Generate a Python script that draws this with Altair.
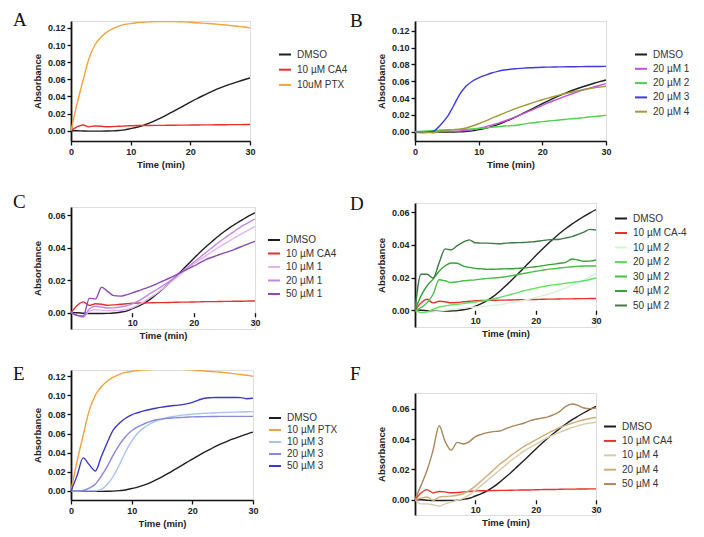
import altair as alt
import pandas as pd

TIME = list(range(31))

DMSO = [0, 0, -0.0003, -0.0005, -0.0005, -0.0005, -0.0004, -0.0002, 0.0003, 0.001,
        0.0025, 0.004, 0.006, 0.0085, 0.0115, 0.0148, 0.0183, 0.022, 0.0257, 0.0295,
        0.0333, 0.037, 0.0405, 0.0438, 0.047, 0.0499, 0.0526, 0.055, 0.0573, 0.0595, 0.0615]
CA4 = [0, 0.0045, 0.0067, 0.0045, 0.0055, 0.0052, 0.0046, 0.0048, 0.0052, 0.0055,
       0.0058, 0.006, 0.006, 0.0061, 0.0062, 0.0062, 0.0063, 0.0064, 0.0065, 0.0065,
       0.0066, 0.0067, 0.0068, 0.0068, 0.0069, 0.007, 0.007, 0.0071, 0.0071, 0.0072, 0.0072]
PTX = [0, 0.031, 0.058, 0.084, 0.100, 0.109, 0.115, 0.119, 0.122, 0.124,
       0.125, 0.126, 0.1265, 0.127, 0.1273, 0.1275, 0.1275, 0.1274, 0.1272, 0.127,
       0.1266, 0.126, 0.1255, 0.125, 0.1245, 0.124, 0.1233, 0.1225, 0.1218, 0.121, 0.120]

B_1 = [0, -0.0012, -0.001, 0, 0.0005, 0.0005, 0.0005, 0.0008, 0.0015, 0.0025,
       0.004, 0.0058, 0.0078, 0.010, 0.0125, 0.0153, 0.0183, 0.0215, 0.0248, 0.028,
       0.0313, 0.0345, 0.0375, 0.0405, 0.0433, 0.046, 0.0485, 0.0508, 0.053, 0.055, 0.0572]
B_2 = [0, 0.0005, 0.001, 0.0015, 0.002, 0.0022, 0.0025, 0.0028, 0.003, 0.0033,
       0.0038, 0.0045, 0.0053, 0.006, 0.0068, 0.0072, 0.0078, 0.009, 0.0102, 0.011,
       0.012, 0.0128, 0.0135, 0.0142, 0.015, 0.0157, 0.0163, 0.0172, 0.018, 0.0187, 0.0194]
B_3 = [0, -0.0008, -0.0005, 0.001, 0.008, 0.017, 0.030, 0.044, 0.054, 0.060,
       0.064, 0.067, 0.0698, 0.0718, 0.0733, 0.0743, 0.075, 0.0756, 0.076, 0.0763,
       0.0766, 0.0768, 0.077, 0.0771, 0.0772, 0.0773, 0.0774, 0.0775, 0.0776, 0.0776, 0.0777]
B_4 = [0, -0.0005, -0.0008, -0.0012, 0.001, 0.002, 0.0025, 0.003, 0.0045, 0.0068,
       0.0095, 0.0125, 0.0158, 0.019, 0.0222, 0.0252, 0.028, 0.0307, 0.0333, 0.0357,
       0.038, 0.0402, 0.0422, 0.0442, 0.046, 0.0478, 0.0494, 0.0508, 0.052, 0.053, 0.054]

C_10 = [0, -0.0015, -0.0025, 0.001, 0.0018, 0.0016, 0.0012, 0.0012, 0.0015, 0.002,
        0.003, 0.0048, 0.007, 0.0095, 0.012, 0.015, 0.018, 0.021, 0.024, 0.027,
        0.030, 0.0325, 0.035, 0.0375, 0.040, 0.0423, 0.0445, 0.0468, 0.049, 0.051, 0.053]
C_20 = [0, -0.0016, -0.0026, 0.0024, 0.004, 0.0035, 0.0029, 0.003, 0.0035, 0.0043,
        0.0055, 0.0073, 0.0096, 0.012, 0.0143, 0.0167, 0.0192, 0.022, 0.025, 0.028,
        0.031, 0.034, 0.037, 0.040, 0.043, 0.0458, 0.0484, 0.051, 0.0535, 0.0556, 0.0576]
C_50 = [0, -0.0016, -0.002, 0.0088, 0.0085, 0.0157, 0.013, 0.0105, 0.0102, 0.011,
        0.0122, 0.0135, 0.0148, 0.0162, 0.0178, 0.0195, 0.0212, 0.023, 0.025, 0.0268,
        0.0286, 0.0307, 0.0327, 0.0341, 0.0355, 0.0368, 0.038, 0.0395, 0.041, 0.0425, 0.0439]

D_10 = [0, -0.001, -0.0012, -0.001, -0.0005, 0, 0.0005, 0.001, 0.0015, 0.0018,
        0.002, 0.0023, 0.0027, 0.003, 0.0034, 0.004, 0.0047, 0.0053, 0.006, 0.0069,
        0.0078, 0.0088, 0.0098, 0.011, 0.0123, 0.0136, 0.015, 0.0167, 0.0184, 0.0204, 0.0225]
D_20 = [0, -0.0014, -0.001, 0.0006, 0.002, 0.0027, 0.0033, 0.0037, 0.0041, 0.0046,
        0.0051, 0.0056, 0.0061, 0.0069, 0.0078, 0.0088, 0.0098, 0.0108, 0.0119, 0.0127,
        0.0135, 0.0143, 0.015, 0.0155, 0.016, 0.0165, 0.017, 0.0175, 0.018, 0.0188, 0.0197]
D_30 = [0, 0.0016, 0.0047, 0.0098, 0.0186, 0.018, 0.017, 0.0174, 0.018, 0.0183,
        0.0186, 0.019, 0.0195, 0.0197, 0.020, 0.0205, 0.0211, 0.0218, 0.0225, 0.0231,
        0.0238, 0.0244, 0.025, 0.0254, 0.0258, 0.0262, 0.0266, 0.0268, 0.027, 0.027, 0.027]
D_40 = [0, 0.0088, 0.015, 0.019, 0.0238, 0.0272, 0.0289, 0.0287, 0.027, 0.0262,
        0.0256, 0.0253, 0.025, 0.0251, 0.0252, 0.0253, 0.0254, 0.0256, 0.0258, 0.0262,
        0.0266, 0.0271, 0.0277, 0.0282, 0.0287, 0.0293, 0.0313, 0.0307, 0.0299, 0.030, 0.0307]
D_50 = [0, 0.022, 0.022, 0.0197, 0.029, 0.0375, 0.0369, 0.0395, 0.0416, 0.043,
        0.0412, 0.041, 0.041, 0.0408, 0.0406, 0.041, 0.0412, 0.0413, 0.0414, 0.0417,
        0.042, 0.0425, 0.043, 0.0432, 0.0434, 0.0442, 0.045, 0.0463, 0.0477, 0.0494, 0.049]

E_10 = [0, 0, 0, 0, 0.0002, 0.0017, 0.007, 0.0156, 0.0277, 0.041,
        0.052, 0.0605, 0.066, 0.070, 0.073, 0.075, 0.0768, 0.078, 0.079, 0.0797,
        0.0803, 0.0808, 0.0812, 0.0815, 0.0818, 0.082, 0.0822, 0.0824, 0.0826, 0.0828, 0.083]
E_20 = [0, 0, 0.0005, 0.003, 0.007, 0.0156, 0.026, 0.038, 0.0484, 0.057,
        0.063, 0.067, 0.070, 0.0725, 0.0744, 0.0753, 0.076, 0.0764, 0.0768, 0.0771,
        0.0775, 0.0776, 0.0777, 0.0778, 0.0779, 0.078, 0.078, 0.078, 0.078, 0.078, 0.078]
E_50 = [0, 0.016, 0.0346, 0.0275, 0.0208, 0.036, 0.051, 0.064, 0.071, 0.076,
        0.0796, 0.0818, 0.0837, 0.0852, 0.0865, 0.0876, 0.0886, 0.0893, 0.090, 0.091,
        0.0927, 0.095, 0.097, 0.0975, 0.0978, 0.0978, 0.0978, 0.0977, 0.0976, 0.0965, 0.0969]

F_10 = [0, -0.0027, -0.0027, -0.0033, -0.0042, -0.0027, -0.0015, -0.0003, 0.001, 0.0033,
        0.0062, 0.0095, 0.0128, 0.0162, 0.0195, 0.0228, 0.026, 0.029, 0.032, 0.0343,
        0.0365, 0.0388, 0.041, 0.0428, 0.0445, 0.0461, 0.0476, 0.0487, 0.0498, 0.0505, 0.0511]
F_20 = [0, 0.001, 0.0018, -0.0004, 0.0018, 0.0022, 0.0024, 0.003, 0.004, 0.0062,
        0.009, 0.0125, 0.016, 0.0196, 0.0232, 0.0263, 0.0294, 0.0322, 0.035, 0.0372,
        0.0394, 0.0416, 0.0438, 0.0457, 0.0476, 0.049, 0.0504, 0.0516, 0.0527, 0.0535, 0.0542]
F_50 = [0, 0.0095, 0.0195, 0.0327, 0.0487, 0.0383, 0.0327, 0.0378, 0.0367, 0.0383,
        0.0416, 0.0431, 0.0442, 0.0449, 0.0453, 0.0467, 0.0482, 0.0493, 0.0504, 0.052,
        0.053, 0.0538, 0.0546, 0.056, 0.0582, 0.0615, 0.0631, 0.0622, 0.0604, 0.06, 0.0604]

C_BLACK, C_RED, C_ORANGE = "#1e1e1e", "#e8312f", "#f3a33c"

TICKS_HI = [0, 0.02, 0.04, 0.06, 0.08, 0.10, 0.12]
TICKS_LO = [0, 0.02, 0.04, 0.06]

SANS = "Liberation Sans"


def panel(letter, names, series, colors, ydom, yticks, xticks, width, height,
          tdx, toff, legx, legy, rowpad, axis_at_zero):
    rows = []
    for n, s in zip(names, series):
        for t, v in zip(TIME, s):
            rows.append({"t": t, "v": v, "s": n})
    df = pd.DataFrame(rows)
    xa = dict(values=xticks, title="Time (min)", labelFontWeight="bold", labelFontSize=9,
              labelFont=SANS, titleFont=SANS, titleFontSize=9.5, titleFontWeight="bold",
              labelColor="#222", titleColor="#222", tickSize=4, tickWidth=1.3,
              tickColor="#111", domainColor="#111", domainWidth=1.5, labelPadding=2,
              titlePadding=3, grid=False, labelFlush=False)
    if axis_at_zero:
        xa["offset"] = -height * (0 - ydom[0]) / (ydom[1] - ydom[0])
        xa["domain"] = False
    ya = alt.Axis(values=yticks, format=".2f", title="Absorbance", labelFontWeight="bold",
                  labelFontSize=9, labelFont=SANS, titleFont=SANS, titleFontSize=9.5,
                  titleFontWeight="bold", labelColor="#222", titleColor="#222",
                  tickSize=4, tickWidth=1.3, tickColor="#111", domainColor="#111",
                  domainWidth=1.8, labelPadding=2, titlePadding=5, grid=False)
    return alt.Chart(df).mark_line(strokeWidth=1.4, interpolate="monotone", clip=True).encode(
        x=alt.X("t:Q", scale=alt.Scale(domain=[0, 30], nice=False, zero=False), axis=alt.Axis(**xa)),
        y=alt.Y("v:Q", scale=alt.Scale(domain=ydom, nice=False, zero=False), axis=ya),
        color=alt.Color("s:N", scale=alt.Scale(domain=names, range=colors),
                        legend=alt.Legend(orient="none", legendX=legx, legendY=legy, title=None,
                                          symbolType="stroke", symbolSize=144, symbolStrokeWidth=2,
                                          labelFont=SANS, labelFontSize=10, labelColor="#333",
                                          rowPadding=rowpad, padding=0, labelOffset=5)),
    ).properties(
        width=width, height=height,
        title=alt.TitleParams(letter, anchor="start", frame="group", orient="top", offset=toff,
                              dx=tdx, baseline="alphabetic", font="Liberation Serif",
                              fontSize=19, fontWeight="normal", color="#111"),
    )


A = panel("A", ["DMSO", "10 µM CA4", "10uM PTX"], [DMSO, CA4, PTX],
          [C_BLACK, C_RED, C_ORANGE], [-0.012, 0.128], TICKS_HI, [0, 10, 20, 30],
          179, 120, -58, -24, 207, 26.5, 3.2, False)
C = panel("C", ["DMSO", "10 µM CA4", "10 µM 1", "20 µM 1", "50 µM 1"],
          [DMSO, CA4, C_10, C_20, C_50],
          [C_BLACK, C_RED, "#e4b4f0", "#c488e4", "#8a4cb4"], [-0.01, 0.065], TICKS_LO,
          [10, 20, 30], 184, 122, -58, -20, 196, 26, 1.5, True)
E = panel("E", ["DMSO", "10 µM PTX", "10 µM 3", "20 µM 3", "50 µM 3"],
          [DMSO, PTX, E_10, E_20, E_50],
          [C_BLACK, C_ORANGE, "#a8c4ee", "#8888e0", "#3a3ac4"], [-0.0095, 0.1265], TICKS_HI,
          [0, 10, 20, 30], 182, 130, -58, -29, 197, 41, 0, False)
B = panel("B", ["DMSO", "20 µM 1", "20 µM 2", "20 µM 3", "20 µM 4"],
          [DMSO, B_1, B_2, B_3, B_4],
          [C_BLACK, "#c050e0", "#50d050", "#3c3cdc", "#a09a3a"], [-0.011, 0.1316], TICKS_HI,
          [0, 10, 20, 30], 191, 120, -65, -25, 219, 26.5, 2.3, False)
D = panel("D", ["DMSO", "10 µM CA-4", "10 µM 2", "20 µM 2", "30 µM 2", "40 µM 2", "50 µM 2"],
          [DMSO, CA4, D_10, D_20, D_30, D_40, D_50],
          [C_BLACK, C_RED, "#d8f2d8", "#5ee05e", "#46c046", "#38a038", "#3f7a44"],
          [-0.0102, 0.0655], TICKS_LO, [10, 20, 30], 181, 124, -65, -26, 199, 8.5, 2.5, True)
F = panel("F", ["DMSO", "10 µM CA4", "10 µM 4", "20 µM 4", "50 µM 4"],
          [DMSO, CA4, F_10, F_20, F_50],
          [C_BLACK, C_RED, "#d4ccaa", "#cfae7a", "#a8865a"], [-0.01, 0.0703], TICKS_LO,
          [10, 20, 30], 181, 122, -65, -6, 188, 26.5, 2.4, True)

col1 = alt.vconcat(A, C, E, spacing=23).resolve_scale(x="independent", y="independent", color="independent")
col2 = alt.vconcat(B, D, F, spacing=25).resolve_scale(x="independent", y="independent", color="independent")

chart = alt.hconcat(col1, col2, spacing=0).resolve_scale(
    x="independent", y="independent", color="independent"
).properties(
    padding={"left": 4, "top": 2, "right": 5, "bottom": 5}
).configure_view(stroke=None).configure(background="white")

chart.save("out.html", embed_options={"renderer": "svg", "actions": False})
